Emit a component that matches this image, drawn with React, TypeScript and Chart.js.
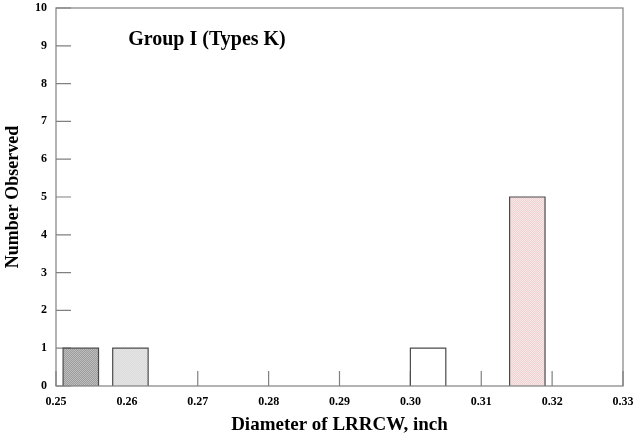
import React, { useEffect, useRef } from "react";
import { Chart, registerables } from "chart.js";

Chart.register(...registerables);

// Histogram bins (inch) and counts
const binStarts = [0.251, 0.258, 0.3, 0.314];
const binEnds = [0.256, 0.263, 0.305, 0.319];
const counts = [1, 1, 1, 5];
const xTicks = [0.25, 0.26, 0.27, 0.28, 0.29, 0.3, 0.31, 0.32, 0.33];
const yTicks = [0, 1, 2, 3, 4, 5, 6, 7, 8, 9, 10];
const annotationText = "Group I (Types K)";
const annotationX = 0.2713;
const annotationY = 9.15;

const SERIF = "'Liberation Serif', 'DejaVu Serif', serif";

function makePattern(c1: string, c2: string): CanvasPattern | string {
  const p = document.createElement("canvas");
  p.width = 2;
  p.height = 2;
  const g = p.getContext("2d");
  if (!g) return c1;
  g.fillStyle = c1;
  g.fillRect(0, 0, 2, 2);
  g.fillStyle = c2;
  g.fillRect(0, 0, 1, 1);
  g.fillRect(1, 1, 1, 1);
  const ctx = document.createElement("canvas").getContext("2d");
  return (ctx && ctx.createPattern(p, "repeat")) || c1;
}

export default function App() {
  const ref = useRef<HTMLCanvasElement | null>(null);

  useEffect(() => {
    document.body.style.margin = "0";
    if (!ref.current) return;
    const fills = [
      makePattern("#9c9c9c", "#bebebe"),
      makePattern("#dadada", "#e6e6e6"),
      "#ffffff",
      makePattern("#f0d4d4", "#f8e6e6"),
    ];
    const datasets = counts.map((c, i) => ({
      data: [
        { x: binStarts[i], y: 0 },
        { x: binStarts[i], y: c },
        { x: binEnds[i], y: c },
        { x: binEnds[i], y: 0 },
      ],
      showLine: true,
      fill: "origin" as const,
      backgroundColor: fills[i],
      borderColor: "#4a4a4a",
      borderWidth: 1.2,
      pointRadius: 0,
      tension: 0,
    }));

    const innerTicks = {
      id: "innerTicks",
      beforeDatasetsDraw(chart: any) {
        const { ctx, chartArea, scales } = chart;
        ctx.save();
        ctx.strokeStyle = "#808080";
        ctx.lineWidth = 1.2;
        ctx.beginPath();
        xTicks.forEach((v) => {
          const px = scales.x.getPixelForValue(v);
          ctx.moveTo(px, chartArea.bottom);
          ctx.lineTo(px, chartArea.bottom - 15);
        });
        yTicks.forEach((v) => {
          const py = scales.y.getPixelForValue(v);
          ctx.moveTo(chartArea.left, py);
          ctx.lineTo(chartArea.left + 15, py);
        });
        ctx.stroke();
        ctx.restore();
      },
      afterDatasetsDraw(chart: any) {
        const { ctx, chartArea, scales } = chart;
        ctx.save();
        ctx.strokeStyle = "#808080";
        ctx.lineWidth = 1.2;
        ctx.strokeRect(
          chartArea.left,
          chartArea.top,
          chartArea.right - chartArea.left,
          chartArea.bottom - chartArea.top
        );
        ctx.fillStyle = "#000";
        ctx.font = `bold 20px ${SERIF}`;
        ctx.textAlign = "center";
        ctx.textBaseline = "middle";
        ctx.fillText(
          annotationText,
          scales.x.getPixelForValue(annotationX),
          scales.y.getPixelForValue(annotationY)
        );
        ctx.restore();
      },
    };

    const chart = new Chart(ref.current, {
      type: "scatter",
      data: { datasets },
      options: {
        animation: false,
        responsive: false,
        layout: { padding: { left: 0, right: 17, top: 8, bottom: 2 } },
        plugins: { legend: { display: false }, tooltip: { enabled: false } },
        scales: {
          x: {
            type: "linear",
            min: 0.25,
            max: 0.33,
            afterBuildTicks: (s: any) => {
              s.ticks = xTicks.map((v) => ({ value: v }));
            },
            afterFit: (s: any) => {
              s.height = 52;
              s.paddingLeft = 0;
              s.paddingRight = 0;
            },
            ticks: {
              color: "#000",
              font: { family: SERIF, size: 12, weight: "bold" },
              padding: 9,
              callback: (v: any) => Number(v).toFixed(2),
            },
            grid: { display: false, drawTicks: false },
            border: { display: false },
            title: {
              display: true,
              text: "Diameter of LRRCW, inch",
              color: "#000",
              font: { family: SERIF, size: 19, weight: "bold" },
              padding: { top: 0, bottom: 2 },
            },
          },
          y: {
            type: "linear",
            min: 0,
            max: 10,
            afterBuildTicks: (s: any) => {
              s.ticks = yTicks.map((v) => ({ value: v }));
            },
            afterFit: (s: any) => {
              s.width = 56;
              s.paddingTop = 0;
              s.paddingBottom = 0;
            },
            ticks: {
              color: "#000",
              font: { family: SERIF, size: 12, weight: "bold" },
              padding: 9,
            },
            grid: { display: false, drawTicks: false },
            border: { display: false },
            title: {
              display: true,
              text: "Number Observed",
              color: "#000",
              font: { family: SERIF, size: 18, weight: "bold" },
              padding: { top: 3, bottom: 0 },
            },
          },
        },
      },
      plugins: [innerTicks],
    });
    return () => chart.destroy();
  }, []);

  return (
    <div style={{ width: 640, height: 440, background: "#fff" }}>
      <canvas ref={ref} width={640} height={440} />
    </div>
  );
}
